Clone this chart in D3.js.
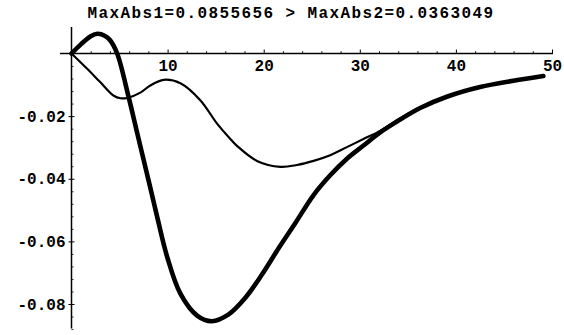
<!DOCTYPE html>
<html>
<head>
<meta charset="utf-8">
<script src="https://cdn.jsdelivr.net/npm/d3@7"></script>
<style>
  html, body { margin: 0; padding: 0; background: #fff; }
  svg { display: block; }
  text { font-family: "Liberation Mono", "DejaVu Sans Mono", monospace; font-weight: bold; fill: #000; }
</style>
</head>
<body>
<svg id="chart" width="564" height="335"></svg>
<script>
// ---- data ----
const titleText = "MaxAbs1=0.0855656 > MaxAbs2=0.0363049";

const thickX = [0, 1, 2, 2.7, 3.5, 4, 4.75, 5.96, 6.83, 8.21, 8.91, 9.95, 11.33, 13.07, 14.6, 16.35, 18.09, 19.82, 21.55, 23.28, 25.19, 26.92, 28.66, 30.38, 32.12, 34.2, 36.28, 39.05, 42.52, 45.98, 49.1];
const thickY = [0, 0.0030, 0.0055, 0.0063, 0.0056, 0.0043, 0, -0.0141, -0.0253, -0.0430, -0.0521, -0.0649, -0.0767, -0.0837, -0.0855, -0.0833, -0.0780, -0.0706, -0.0622, -0.0542, -0.0452, -0.0389, -0.0336, -0.0294, -0.0252, -0.0211, -0.0174, -0.0138, -0.0107, -0.0087, -0.0072];

const thinX = [0, 1.63, 3.01, 4.4, 5.1, 5.79, 7.17, 8.2, 9.6, 11.33, 13.4, 15.15, 16.53, 17.22, 19.3, 21.73, 23.46, 25.19, 26.92, 28.66, 30.38, 32.12, 34.2, 36.28, 39.05, 42.52, 45.98, 49.1];
const thinY = [0, -0.0049, -0.0092, -0.0135, -0.0143, -0.0142, -0.0125, -0.0102, -0.0084, -0.0095, -0.0149, -0.0224, -0.0273, -0.0295, -0.0343, -0.0362, -0.0356, -0.0343, -0.0325, -0.0299, -0.0273, -0.0247, -0.0207, -0.0172, -0.0137, -0.0106, -0.0086, -0.0071];

const xTicks = [10, 20, 30, 40, 50];
const xTickLabels = ["10", "20", "30", "40", "50"];
const yTicks = [-0.02, -0.04, -0.06, -0.08];
const yTickLabels = ["-0.02", "-0.04", "-0.06", "-0.08"];
const xMinorTicks = d3.range(-0, 51, 2).filter(v => v % 10 !== 0);
const yMinorTicks = d3.range(0, -0.0881, -0.004).map(v => +v.toFixed(3)).filter(v => Math.abs(Math.round(v * 1000) % 20) !== 0);

// ---- layout ----
const svg = d3.select("#chart");
const x = d3.scaleLinear().domain([0, 50]).range([71.5, 552]);
const y = d3.scaleLinear().domain([-0.08, 0]).range([304, 53.5]);
const xAxisExtent = [-1.2, 50.1];
const yAxisExtent = [-0.0878, 0.0085];

// axes lines
svg.append("line")
  .attr("x1", x(xAxisExtent[0])).attr("x2", x(xAxisExtent[1]))
  .attr("y1", y(0)).attr("y2", y(0))
  .attr("stroke", "#000").attr("stroke-width", 1.5);
svg.append("line")
  .attr("x1", x(0)).attr("x2", x(0))
  .attr("y1", y(yAxisExtent[0])).attr("y2", y(yAxisExtent[1]))
  .attr("stroke", "#000").attr("stroke-width", 1.5);

// x axis ticks (pointing up, labels below)
const gx = svg.append("g").attr("transform", `translate(0,${y(0)})`)
  .call(d3.axisBottom(x).tickValues(xTicks)
    .tickFormat((d, i) => xTickLabels[i])
    .tickSizeInner(-4).tickSizeOuter(0).tickPadding(6));
gx.select(".domain").remove();
gx.selectAll("line").attr("stroke", "#000").attr("stroke-width", 1);
gx.selectAll("text").style("font-size", "16px").style("font-family", "Liberation Mono").style("font-weight", "bold").attr("dy", "0.72em");

const gxm = svg.append("g").attr("transform", `translate(0,${y(0)})`)
  .call(d3.axisBottom(x).tickValues(xMinorTicks).tickFormat("").tickSizeInner(-2.5).tickSizeOuter(0));
gxm.select(".domain").remove();
gxm.selectAll("line").attr("stroke", "#000").attr("stroke-width", 0.8);

// y axis ticks (labels left)
const gy = svg.append("g").attr("transform", `translate(${x(0)},0)`)
  .call(d3.axisLeft(y).tickValues(yTicks)
    .tickFormat((d, i) => yTickLabels[i])
    .tickSizeInner(3).tickSizeOuter(0).tickPadding(3));
gy.select(".domain").remove();
gy.selectAll("line").attr("stroke", "#000").attr("stroke-width", 1);
gy.selectAll("text").style("font-size", "16px").style("font-family", "Liberation Mono").style("font-weight", "bold");

const gyr = svg.append("g").attr("transform", `translate(${x(0)},0)`)
  .call(d3.axisRight(y).tickValues(yTicks).tickFormat("").tickSizeInner(3).tickSizeOuter(0));
gyr.select(".domain").remove();
gyr.selectAll("line").attr("stroke", "#000").attr("stroke-width", 1);

const gym = svg.append("g").attr("transform", `translate(${x(0)},0)`)
  .call(d3.axisRight(y).tickValues(yMinorTicks).tickFormat("").tickSizeInner(2).tickSizeOuter(0));
gym.select(".domain").remove();
gym.selectAll("line").attr("stroke", "#000").attr("stroke-width", 0.8);

// curves
const line = d3.line().x(d => x(d[0])).y(d => y(d[1])).curve(d3.curveCatmullRom.alpha(0.5));

svg.append("path")
  .datum(thinX.map((v, i) => [v, thinY[i]]))
  .attr("d", line).attr("fill", "none")
  .attr("stroke", "#000").attr("stroke-width", 2.2)
  .attr("stroke-linecap", "round").attr("stroke-linejoin", "round");

svg.append("path")
  .datum(thickX.map((v, i) => [v, thickY[i]]))
  .attr("d", line).attr("fill", "none")
  .attr("stroke", "#000").attr("stroke-width", 4.6)
  .attr("stroke-linecap", "round").attr("stroke-linejoin", "round");

// title
svg.append("text")
  .attr("x", 291).attr("y", 18)
  .attr("text-anchor", "middle")
  .style("font-size", "16px")
  .style("letter-spacing", "1.4px")
  .text(titleText);
</script>
</body>
</html>
